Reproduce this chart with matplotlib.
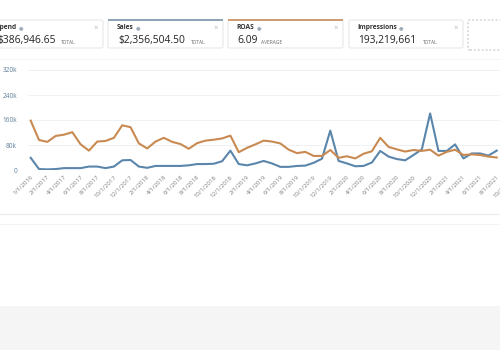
import numpy as np
import matplotlib
matplotlib.use('Agg')
import matplotlib.pyplot as plt
import pandas as pd
from matplotlib.patches import FancyBboxPatch, Rectangle

plt.rcParams['font.family'] = ['Open Sans', 'DejaVu Sans']

# data (values in dollars)
dates = ['1/1/2016'] + [f'{d.month}/1/{d.year}' for d in pd.date_range('2017-01-01', periods=60, freq='MS')]

orange_k = [158, 96, 90, 109, 113, 121, 82, 62, 91, 93, 103, 143, 137, 85, 69, 91, 103, 90, 83, 68,
            86, 94, 97, 101, 110, 57, 71, 82, 94, 91, 85, 65, 54, 58, 45, 45, 64, 39, 44, 37,
            52, 60, 103, 74, 66, 59, 64, 61, 65, 46, 58, 65, 48, 50, 48, 43, 40]
blue_k = [39, 3, 2, 3, 6, 6, 6, 11, 11, 6, 11, 31, 32, 11, 7, 13, 13, 13, 13, 15,
          19, 19, 20, 28, 62, 19, 15, 21, 29, 21, 10, 10, 13, 14, 23, 36, 126, 29, 21, 12,
          13, 24, 61, 43, 35, 31, 48, 66, 181, 61, 61, 82, 37, 53, 53, 46, 62]

y_ticks = [0, 80000, 160000, 240000, 320000]
y_labels = ['0', '80k', '160k', '240k', '320k']

# summary cards: name, value, kind, left, right, top colour
cards = [('Spend', '$386,946.65', 'TOTAL', -14, 103, None),
         ('Sales', '$2,356,504.50', 'TOTAL', 108, 223, '#8ea3b6'),
         ('ROAS', '6.09', 'AVERAGE', 228, 343, '#cf9c73'),
         ('Impressions', '193,219,661', 'TOTAL', 349, 463, None)]
label_x = [-3.5, 117, 236, 357]
icon_x = [21, 138, 259, 401]
value_w = [60, 70, 21, 62]

W, H = 500, 350
fig = plt.figure(figsize=(5, 3.5), dpi=100)
fig.patch.set_facecolor('white')


def fx(x):
    return x / W


def fy(y):
    return 1 - y / H


# cards
for (name, val, kind, l, r, top), lx, ix, vw in zip(cards, label_x, icon_x, value_w):
    box = FancyBboxPatch((fx(l), fy(48)), fx(r - l), 28 / H, boxstyle='round,pad=0,rounding_size=0.004',
                         transform=fig.transFigure, fc='white', ec='#e2e2e2', lw=0.6)
    fig.patches.append(box)
    if top:
        fig.patches.append(Rectangle((fx(l), fy(21)), fx(r - l), 2 / H, transform=fig.transFigure,
                                     fc=top, ec='none'))
    fig.text(fx(lx), fy(27.5), name, fontsize=4.8, fontweight='bold', color='#333333', va='center')
    fig.text(fx(ix), fy(27.5), '●', fontsize=3.8, color='#9eabb8', va='center', ha='center')
    fig.text(fx(r - 7), fy(28), '×', fontsize=5.5, color='#b5b5b5', va='center', ha='center')
    fig.text(fx(lx + 1), fy(40.5), val, fontsize=7.4, fontweight='medium', color='#222222', va='center')
    fig.text(fx(lx + 1 + vw + 3), fy(42), kind, fontsize=3.5, color='#666666', va='center')

# empty dashed card
fig.patches.append(FancyBboxPatch((fx(468), fy(50)), fx(50), 30 / H, boxstyle='round,pad=0,rounding_size=0.004',
                                  transform=fig.transFigure, fc='white', ec='#bdbdbd', lw=0.7, ls=(0, (2, 2))))

# separators below the chart and the grey footer
fig.add_artist(plt.Line2D([0, 1], [fy(59), fy(59)], color='#f2f2f2', lw=0.6))
fig.add_artist(plt.Line2D([0, 1], [fy(214), fy(214)], color='#ebebeb', lw=0.8))
fig.add_artist(plt.Line2D([0, 1], [fy(224), fy(224)], color='#f3f3f3', lw=0.8))
fig.patches.append(Rectangle((0, 0), 1, fy(306), transform=fig.transFigure, fc='#f5f5f5', ec='none'))

# chart area
step = 8.33
x0 = 30.7
left_px, right_px = 28, 530
ax = fig.add_axes([fx(left_px), fy(170), fx(right_px - left_px), 100 / H])
ax.set_facecolor('none')
x = np.arange(len(orange_k))
ax.plot(x, np.array(blue_k) * 1000, color='#5b86ab', lw=1.5, zorder=3)
ax.plot(x, np.array(orange_k) * 1000, color='#c98a52', lw=1.5, zorder=3)

ax.set_xlim(-(x0 - left_px) / step, (right_px - x0) / step)
ax.set_ylim(0, 320000)
ax.set_yticks(y_ticks)
ax.set_yticklabels(y_labels)
ax.grid(axis='y', color='#eceff2', lw=0.6)
ax.set_axisbelow(True)
for s in ax.spines.values():
    s.set_visible(False)
ax.tick_params(axis='y', length=0, pad=8, labelsize=4.7, labelcolor='#5f7f99')

ticks = list(range(0, len(dates), 2))
ax.set_xticks(ticks)
ax.set_xticklabels([dates[i] for i in ticks], rotation=45, ha='right', rotation_mode='anchor')
ax.tick_params(axis='x', length=0, pad=3, labelsize=4.4, labelcolor='#7f7f7f')

fig.savefig('out.png', dpi=100, facecolor='white')
